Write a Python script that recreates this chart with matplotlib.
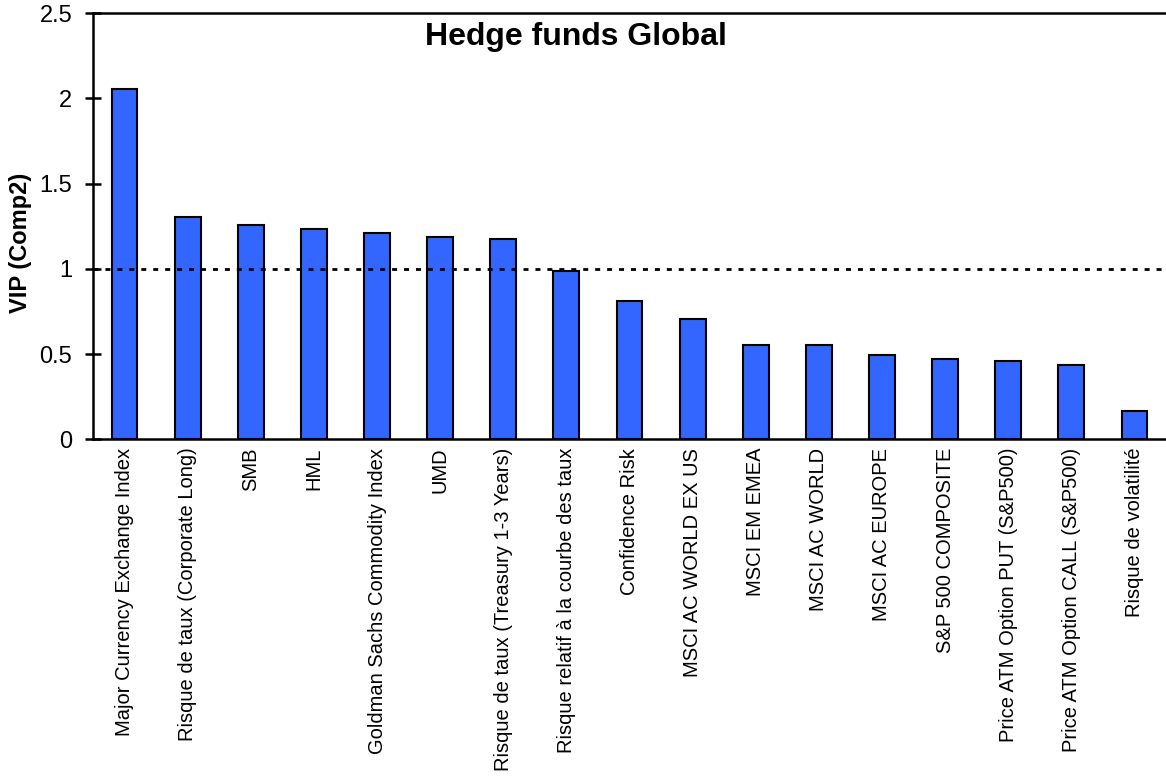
import matplotlib.pyplot as plt

# facteurs et VIP (Comp2)
labels = [
    "Major Currency Exchange Index",
    "Risque de taux (Corporate Long)",
    "SMB",
    "HML",
    "Goldman Sachs Commodity Index",
    "UMD",
    "Risque de taux (Treasury 1-3 Years)",
    "Risque relatif à la courbe des taux",
    "Confidence Risk",
    "MSCI AC WORLD EX US",
    "MSCI EM EMEA",
    "MSCI AC WORLD",
    "MSCI AC EUROPE",
    "S&P 500 COMPOSITE",
    "Price ATM Option PUT (S&P500)",
    "Price ATM Option CALL (S&P500)",
    "Risque de volatilité",
]
vip = [2.055, 1.305, 1.258, 1.235, 1.211, 1.187, 1.177, 0.988, 0.812,
       0.706, 0.553, 0.553, 0.495, 0.471, 0.459, 0.438, 0.166]
yticks = [0, 0.5, 1, 1.5, 2, 2.5]
ytick_labels = ["0", "0.5", "1", "1.5", "2", "2.5"]
threshold = 1

plt.rcParams["font.family"] = ["Liberation Sans", "DejaVu Sans"]

fig = plt.figure(figsize=(11.66, 7.82), dpi=100)
ax = fig.add_axes([93 / 1166, 1 - 439.3 / 782, 1 - 93 / 1166, (439.3 - 13.3) / 782])

x = range(len(vip))
ax.bar(x, vip, width=0.41, color="#3366ff", edgecolor="black", linewidth=1.5, zorder=2)

# seuil VIP = 1
ax.axhline(threshold, color="black", linewidth=2, linestyle=(0, (1.8, 2.5)), zorder=3)

ax.set_xlim(-0.5, len(vip) - 0.5)
ax.set_ylim(0, 2.5)
ax.set_yticks(yticks)
ax.set_yticklabels(ytick_labels)
ax.set_xticks(list(x))
ax.set_xticklabels(labels, rotation=90, va="top", ha="center")

ax.tick_params(axis="y", direction="inout", length=11, width=1.8, pad=9.5, labelsize=17)
ax.tick_params(axis="x", length=0, pad=6, labelsize=14.5)

for side in ["left", "top", "bottom"]:
    ax.spines[side].set_linewidth(1.8)
ax.spines["right"].set_visible(False)

ax.set_ylabel("VIP (Comp2)", fontsize=17, fontweight="bold")
ax.yaxis.set_label_coords(-0.057, 0.46)

fig.text(576 / 1166, 1 - 45 / 782, "Hedge funds Global", fontsize=23,
         fontweight="bold", ha="center", va="baseline")

fig.savefig("out.png", dpi=100)
